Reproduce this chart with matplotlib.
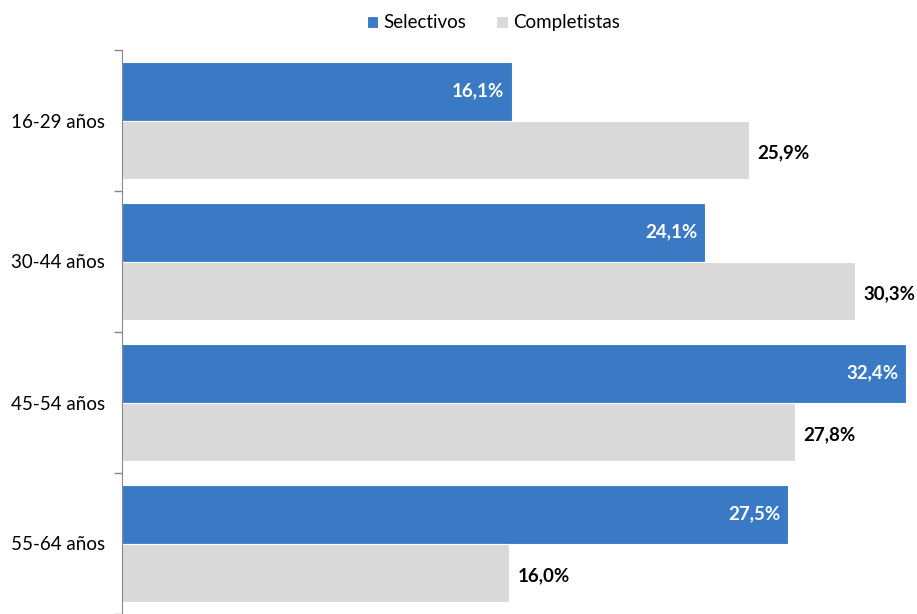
import matplotlib.pyplot as plt
import numpy as np

plt.rcParams['font.family'] = ['Lato', 'DejaVu Sans']

categorias = ['16-29 años', '30-44 años', '45-54 años', '55-64 años']
selectivos = [16.1, 24.1, 32.4, 27.5]
completistas = [25.9, 30.3, 27.8, 16.0]

azul = '#3A79C4'
gris = '#D9D9D9'

fig = plt.figure(figsize=(9.17, 6.14), dpi=100)
ax = fig.add_axes([122/917, 0.0, 1 - 122/917, 1 - 50/614])

y = np.arange(len(categorias))
h = 0.415
ax.barh(y - h/2, selectivos, height=h, color=azul, edgecolor='white', linewidth=0.8, label='Selectivos')
ax.barh(y + h/2, completistas, height=h, color=gris, edgecolor='white', linewidth=0.8, label='Completistas')

for yi, v in zip(y, selectivos):
    ax.text(v - 0.3, yi - h/2, f'{v:.1f}%'.replace('.', ','), ha='right', va='center',
            color='white', fontsize=13.5, fontweight='bold')
for yi, v in zip(y, completistas):
    ax.text(v + 0.35, yi + h/2 + 0.02, f'{v:.1f}%'.replace('.', ','), ha='left', va='center',
            color='black', fontsize=13.5, fontweight='bold')

ax.set_xlim(0, 32.85)
ax.set_ylim(3.5, -0.5)
ax.set_yticks(y)
ax.set_yticklabels(categorias, fontsize=13.5)
ax.set_yticks(np.arange(-0.5, 3.6, 1), minor=True)
ax.tick_params(axis='y', which='major', length=0, pad=12)
ax.tick_params(axis='y', which='minor', length=6, color='#888888', width=1)
ax.set_xticks([])
for s in ['top', 'right', 'bottom']:
    ax.spines[s].set_visible(False)
ax.spines['left'].set_color('#888888')

fig.legend(loc='upper center', bbox_to_anchor=(0.538, 1.004), ncol=2, frameon=False,
           fontsize=13.5, handlelength=0.6, handleheight=0.6, handletextpad=0.3,
           columnspacing=1.6)

fig.savefig('out.png', dpi=100)
